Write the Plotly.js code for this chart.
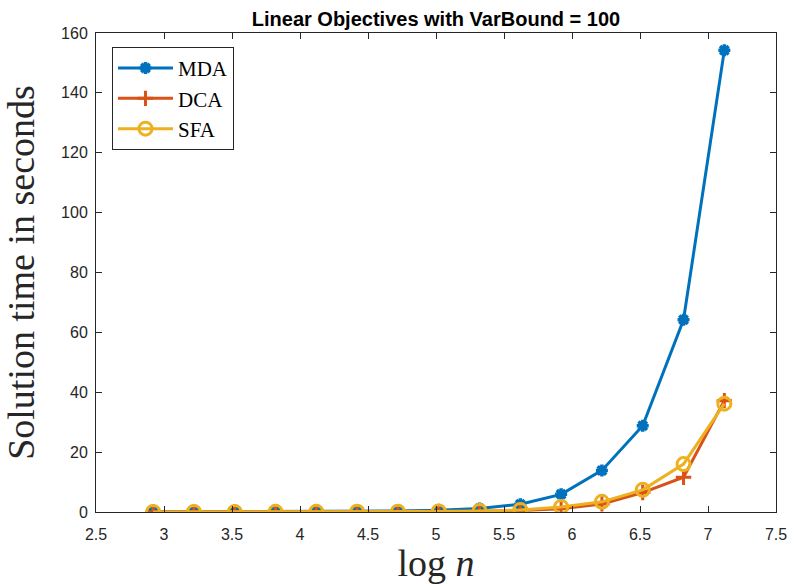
<!DOCTYPE html>
<html>
<head>
<meta charset="utf-8">
<script src="https://cdn.plot.ly/plotly-3.0.1.min.js"></script>
<style>html,body{margin:0;padding:0;background:#fff;}#chart{width:794px;height:584px;}</style>
</head>
<body>
<div id="chart"></div>
<script>
const logN = [2.92, 3.22, 3.52, 3.82, 4.12, 4.42, 4.72, 5.02, 5.32, 5.62, 5.92, 6.22, 6.52, 6.82, 7.12];
const mda = [0.05, 0.06, 0.08, 0.1, 0.15, 0.2, 0.3, 0.55, 1.2, 2.6, 5.9, 13.9, 28.8, 64.2, 154.2];
const dca = [0.02, 0.02, 0.03, 0.04, 0.05, 0.07, 0.1, 0.15, 0.25, 0.5, 1.1, 2.7, 6.5, 11.6, 37.2];
const sfa = [0.03, 0.03, 0.04, 0.05, 0.06, 0.08, 0.12, 0.2, 0.35, 0.7, 1.7, 3.4, 7.4, 16.0, 36.2];
const names = ['MDA', 'DCA', 'SFA'];
const colors = ['#0072BD', '#D95319', '#EDB120'];

const traces = [
  {x: logN, y: mda, name: names[0], mode: 'lines+markers',
   line: {color: colors[0], width: 3},
   marker: {symbol: 'asterisk-open', size: 10, color: colors[0], line: {color: colors[0], width: 3.5}}},
  {x: logN, y: dca, name: names[1], mode: 'lines+markers',
   line: {color: colors[1], width: 3},
   marker: {symbol: 'cross-thin-open', size: 11, color: colors[1], line: {color: colors[1], width: 3}}},
  {x: logN, y: sfa, name: names[2], mode: 'lines+markers',
   line: {color: colors[2], width: 3},
   marker: {symbol: 'circle-open', size: 13, color: colors[2], line: {color: colors[2], width: 3}}}
];

const axisCommon = {
  showgrid: false, zeroline: false, showline: true, linecolor: '#262626', linewidth: 1,
  mirror: 'ticks', ticks: 'inside', ticklen: 6, tickcolor: '#262626', tickwidth: 1,
  tickfont: {family: 'Liberation Sans, Arial, sans-serif', size: 16, color: '#262626'}
};

const layout = {
  width: 794, height: 584,
  margin: {l: 96, r: 18, t: 33, b: 72},
  paper_bgcolor: '#fff', plot_bgcolor: '#fff',
  title: {text: '<b>Linear Objectives with VarBound = 100</b>',
          font: {family: 'Liberation Sans, Arial, sans-serif', size: 20, color: '#000'},
          x: 0.5, xref: 'paper', xanchor: 'center', y: 1 - 19/584, yref: 'container', yanchor: 'middle'},
  xaxis: Object.assign({}, axisCommon, {
    range: [2.5, 7.5], dtick: 0.5, tick0: 2.5, ticklabelstandoff: 8,
    title: {text: 'log <i>n</i>', font: {family: 'Liberation Serif, Times New Roman, serif', size: 38, color: '#262626'}, standoff: 2}
  }),
  yaxis: Object.assign({}, axisCommon, {
    range: [0, 160], dtick: 20, ticklabelstandoff: 4,
    title: {text: 'Solution time in seconds', font: {family: 'Liberation Serif, Times New Roman, serif', size: 38, color: '#262626'}, standoff: 14}
  }),
  showlegend: true,
  legend: {x: 0.0235, y: 0.971, xanchor: 'left', yanchor: 'top',
           bgcolor: '#fff', bordercolor: '#262626', borderwidth: 1,
           font: {family: 'Liberation Serif, Times New Roman, serif', size: 21, color: '#000'},
           itemwidth: 55, tracegroupgap: 0}
};

Plotly.newPlot('chart', traces, layout, {displayModeBar: false, staticPlot: true});
</script>
</body>
</html>
